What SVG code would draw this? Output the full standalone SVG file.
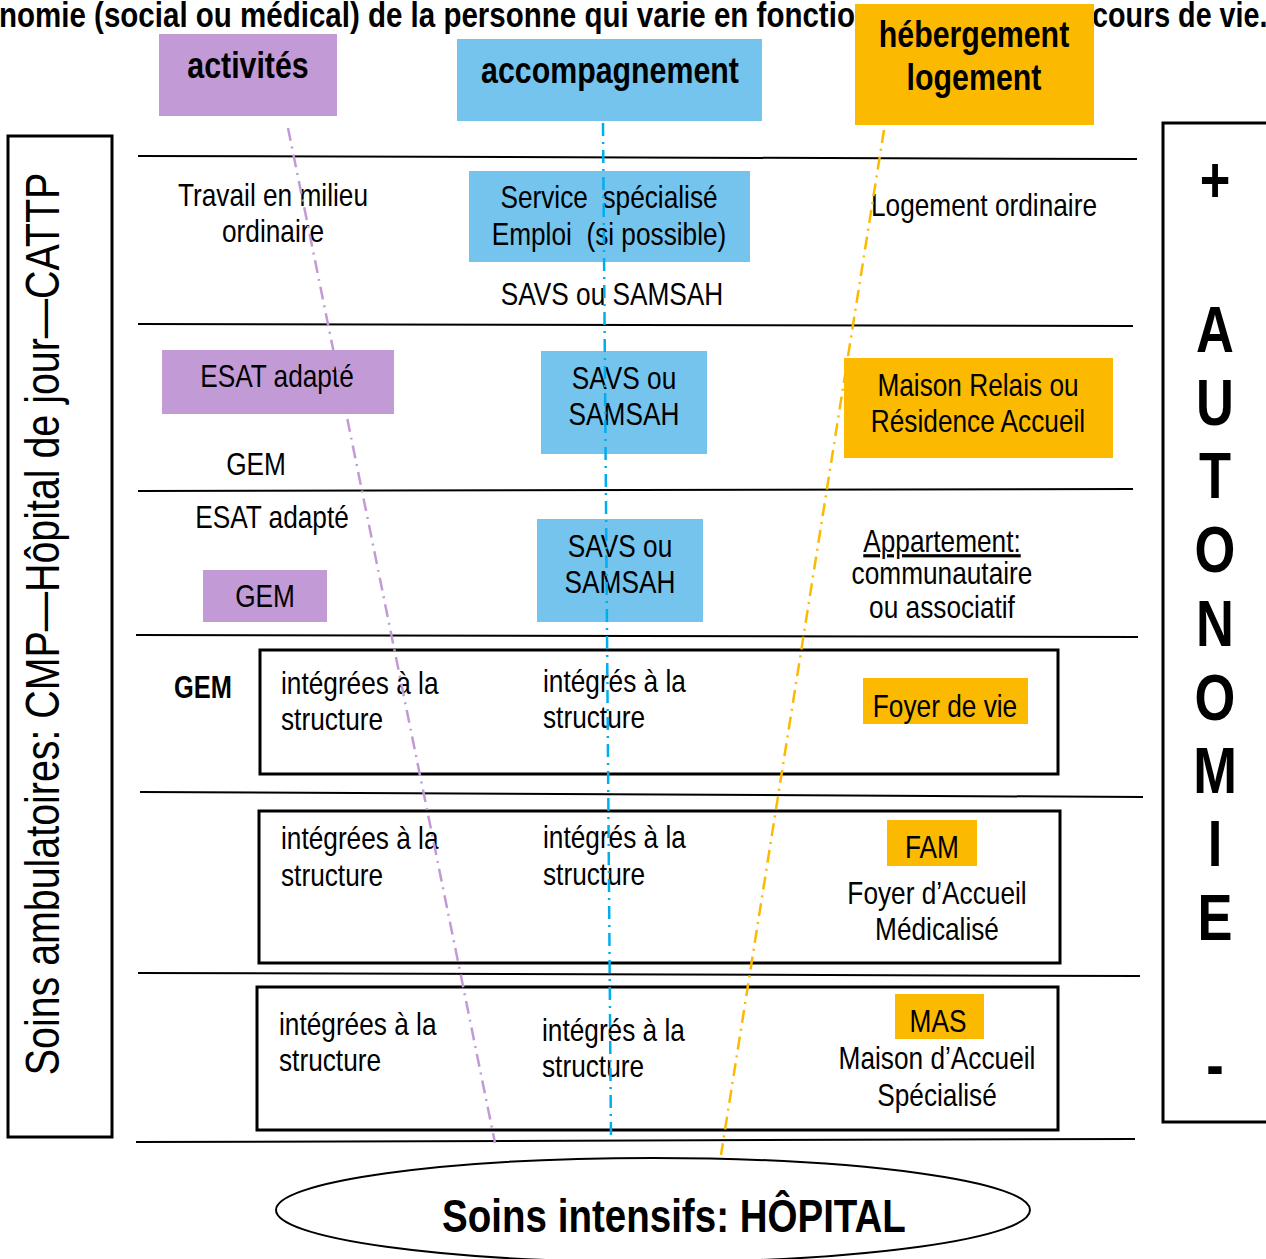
<svg xmlns="http://www.w3.org/2000/svg" width="1266" height="1259" viewBox="0 0 1266 1259">
<style>
text{font-family:"Liberation Sans",Arial,sans-serif;fill:#000}
.t{font-size:32px}
.c{text-anchor:middle}
.b{font-weight:bold}
.h{font-size:37px;font-weight:bold;text-anchor:middle}
.az{font-size:64px;font-weight:bold;text-anchor:middle}
.hl{stroke:#000;stroke-width:2;fill:none}
.box{fill:#fff;stroke:#000;stroke-width:3}
.pu{fill:#C29AD6}
.bl{fill:#74C4EE}
.or{fill:#FBBA00}
.dd{fill:none;stroke-width:2.5;stroke-dasharray:13 6 2 6}
</style>
<rect width="1266" height="1259" fill="#fff"/>

<g id="title">
<text class="b" font-size="36" transform="translate(-1,27) scale(.82,1)">nomie (social ou médical) de la personne qui varie en fonctio</text>
<text class="b" font-size="35" transform="translate(1092,27) scale(.82,1)">cours de vie.</text>
</g>

<g id="rows">
<line class="hl" x1="138" y1="156" x2="1137" y2="159"/>
<line class="hl" x1="138" y1="324" x2="1133" y2="326"/>
<line class="hl" x1="138" y1="491" x2="1133" y2="489"/>
<line class="hl" x1="136" y1="635" x2="1138" y2="637"/>
<line class="hl" x1="140" y1="792" x2="1143" y2="797"/>
<line class="hl" x1="138" y1="973" x2="1140" y2="976"/>
<line class="hl" x1="136" y1="1142" x2="1135" y2="1139"/>
</g>

<g id="box-row4"><rect class="box" x="260" y="650" width="798" height="124"/></g>
<g id="box-row5"><rect class="box" x="259" y="811" width="801" height="152"/></g>
<g id="box-row6"><rect class="box" x="257" y="987" width="801" height="143"/></g>

<g id="left-box">
<rect x="8" y="136" width="104" height="1001" fill="#fff" stroke="#000" stroke-width="3"/>
<text class="c" font-size="48" transform="translate(59,624) rotate(-90) scale(.82,1)">Soins ambulatoires: CMP—Hôpital de jour—CATTP</text>
</g>

<g id="right-box">
<rect x="1163" y="123" width="110" height="999" fill="#fff" stroke="#000" stroke-width="3"/>
<text class="az" transform="translate(1215,202) scale(.82,1)">+</text>
<text class="az" transform="translate(1215,352) scale(.82,1)">A</text>
<text class="az" transform="translate(1215,425) scale(.82,1)">U</text>
<text class="az" transform="translate(1215,498) scale(.82,1)">T</text>
<text class="az" transform="translate(1215,572) scale(.82,1)">O</text>
<text class="az" transform="translate(1215,646) scale(.82,1)">N</text>
<text class="az" transform="translate(1215,720) scale(.82,1)">O</text>
<text class="az" transform="translate(1215,793) scale(.82,1)">M</text>
<text class="az" transform="translate(1215,866) scale(.82,1)">I</text>
<text class="az" transform="translate(1215,940) scale(.82,1)">E</text>
<text class="az" transform="translate(1215,1087) scale(.82,1)">-</text>
</g>

<g id="head-activites">
<rect class="pu" x="159" y="34" width="178" height="82"/>
<text class="h" transform="translate(248,78) scale(.82,1)">activités</text>
</g>
<g id="head-accompagnement">
<rect class="bl" x="457" y="39" width="305" height="82"/>
<text class="h" transform="translate(610,83) scale(.82,1)">accompagnement</text>
</g>
<g id="head-hebergement">
<rect class="or" x="855" y="4" width="239" height="121"/>
<text class="h" transform="translate(974,47) scale(.82,1)">hébergement</text>
<text class="h" transform="translate(974,90) scale(.82,1)">logement</text>
</g>

<g id="travail">
<text class="t c" transform="translate(273,206) scale(.82,1)">Travail en milieu</text>
<text class="t c" transform="translate(273,242) scale(.82,1)">ordinaire</text>
</g>
<g id="service-emploi">
<rect class="bl" x="469" y="171" width="281" height="91"/>
<text class="t c" transform="translate(609,208) scale(.82,1)" xml:space="preserve">Service  spécialisé</text>
<text class="t c" transform="translate(609,245) scale(.82,1)" xml:space="preserve">Emploi  (si possible)</text>
</g>
<g id="savs1"><text class="t c" transform="translate(612,305) scale(.82,1)">SAVS ou SAMSAH</text></g>
<g id="logement-ordinaire"><text class="t c" transform="translate(984,216) scale(.82,1)">Logement ordinaire</text></g>

<g id="esat1">
<rect class="pu" x="162" y="350" width="232" height="64"/>
<text class="t c" transform="translate(277,387) scale(.82,1)">ESAT adapté</text>
</g>
<g id="gem1"><text class="t c" transform="translate(256,475) scale(.82,1)">GEM</text></g>
<g id="savs2">
<rect class="bl" x="541" y="351" width="166" height="103"/>
<text class="t c" transform="translate(624,389) scale(.82,1)">SAVS ou</text>
<text class="t c" transform="translate(624,425) scale(.82,1)">SAMSAH</text>
</g>
<g id="maison-relais">
<rect class="or" x="844" y="358" width="269" height="100"/>
<text class="t c" transform="translate(978,396) scale(.82,1)">Maison Relais ou</text>
<text class="t c" transform="translate(978,432) scale(.82,1)">Résidence Accueil</text>
</g>

<g id="esat2"><text class="t c" transform="translate(272,528) scale(.82,1)">ESAT adapté</text></g>
<g id="gem2">
<rect class="pu" x="203" y="570" width="124" height="52"/>
<text class="t c" transform="translate(265,607) scale(.82,1)">GEM</text>
</g>
<g id="savs3">
<rect class="bl" x="537" y="519" width="166" height="103"/>
<text class="t c" transform="translate(620,557) scale(.82,1)">SAVS ou</text>
<text class="t c" transform="translate(620,593) scale(.82,1)">SAMSAH</text>
</g>
<g id="appartement">
<text class="t c" transform="translate(942,552) scale(.82,1)" text-decoration="underline">Appartement:</text>
<text class="t c" transform="translate(942,584) scale(.82,1)">communautaire</text>
<text class="t c" transform="translate(942,618) scale(.82,1)">ou associatif</text>
</g>

<g id="gem3"><text class="b" font-size="31" transform="translate(174,698) scale(.82,1)">GEM</text></g>
<g id="int4a">
<text class="t" transform="translate(281,694) scale(.82,1)">intégrées à la</text>
<text class="t" transform="translate(281,730) scale(.82,1)">structure</text>
</g>
<g id="int4b">
<text class="t" transform="translate(543,692) scale(.82,1)">intégrés à la</text>
<text class="t" transform="translate(543,728) scale(.82,1)">structure</text>
</g>
<g id="foyer-vie">
<rect class="or" x="863" y="678" width="165" height="46"/>
<text class="t c" transform="translate(945,717) scale(.82,1)">Foyer de vie</text>
</g>

<g id="int5a">
<text class="t" transform="translate(281,849) scale(.82,1)">intégrées à la</text>
<text class="t" transform="translate(281,886) scale(.82,1)">structure</text>
</g>
<g id="int5b">
<text class="t" transform="translate(543,848) scale(.82,1)">intégrés à la</text>
<text class="t" transform="translate(543,885) scale(.82,1)">structure</text>
</g>
<g id="fam">
<rect class="or" x="887" y="820" width="90" height="46"/>
<text class="t c" transform="translate(932,858) scale(.82,1)">FAM</text>
<text class="t c" transform="translate(937,904) scale(.82,1)">Foyer d’Accueil</text>
<text class="t c" transform="translate(937,940) scale(.82,1)">Médicalisé</text>
</g>

<g id="int6a">
<text class="t" transform="translate(279,1035) scale(.82,1)">intégrées à la</text>
<text class="t" transform="translate(279,1071) scale(.82,1)">structure</text>
</g>
<g id="int6b">
<text class="t" transform="translate(542,1041) scale(.82,1)">intégrés à la</text>
<text class="t" transform="translate(542,1077) scale(.82,1)">structure</text>
</g>
<g id="mas">
<rect class="or" x="895" y="994" width="89" height="45"/>
<text class="t c" transform="translate(938,1032) scale(.82,1)">MAS</text>
<text class="t c" transform="translate(937,1069) scale(.82,1)">Maison d’Accueil</text>
<text class="t c" transform="translate(937,1106) scale(.82,1)">Spécialisé</text>
</g>

<g id="connectors">
<line class="dd" stroke="#C29AD6" x1="288" y1="128" x2="495" y2="1143"/>
<line class="dd" stroke="#00AEEF" x1="603" y1="123" x2="611" y2="1140"/>
<line class="dd" stroke="#FBBA00" x1="884" y1="130" x2="721" y2="1155"/>
</g>

<g id="hopital">
<ellipse cx="653" cy="1210" rx="377" ry="52" fill="#fff" stroke="#000" stroke-width="2"/>
<text class="b c" font-size="47" transform="translate(674,1232) scale(.82,1)">Soins intensifs: HÔPITAL</text>
</g>
</svg>
